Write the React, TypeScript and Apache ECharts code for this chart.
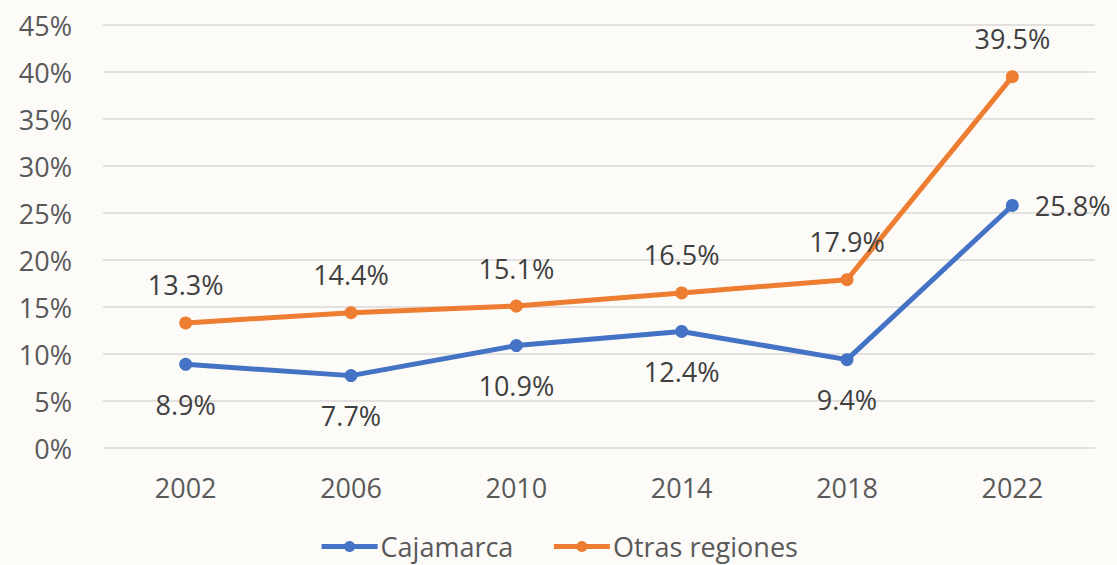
import React, { useEffect, useRef } from "react";
import * as echarts from "echarts";

const years = ["2002", "2006", "2010", "2014", "2018", "2022"];
const cajamarca = [8.9, 7.7, 10.9, 12.4, 9.4, 25.8];
const otras = [13.3, 14.4, 15.1, 16.5, 17.9, 39.5];

const FONT = "'Open Sans', 'Noto Sans', sans-serif";

export default function App() {
  const ref = useRef<HTMLDivElement>(null);
  useEffect(() => {
    document.body.style.margin = "0";
    const chart = echarts.init(ref.current!, undefined, { renderer: "svg" });
    chart.setOption({
      animation: false,
      backgroundColor: "#FDFBF8",
      textStyle: { fontFamily: FONT },
      grid: { left: 103, right: 22, top: 25, bottom: 117 },
      legend: {
        bottom: 0,
        left: "center",
        itemWidth: 56,
        itemHeight: 14,
        itemGap: 38,
        lineStyle: { width: 5 },
        textStyle: { fontFamily: FONT, fontSize: 27, color: "#595959", padding: [0, 0, 0, -2] },
        data: ["Cajamarca", "Otras regiones"],
      },
      xAxis: {
        type: "category",
        data: years,
        boundaryGap: true,
        axisLine: { show: false },
        axisTick: { show: false },
        axisLabel: { fontFamily: FONT, fontSize: 27, color: "#595959", margin: 26 },
      },
      yAxis: {
        type: "value",
        min: 0,
        max: 45,
        interval: 5,
        axisLine: { show: false },
        axisTick: { show: false },
        splitLine: { lineStyle: { color: "#D9D9D9", width: 1.5 } },
        axisLabel: { fontFamily: FONT, fontSize: 27, color: "#595959", margin: 31, formatter: "{value}%" },
      },
      series: [
        {
          name: "Cajamarca",
          type: "line",
          data: cajamarca.map((v, i) => ({
            value: v,
            label: i === cajamarca.length - 1 ? { position: "right", distance: 16 } : undefined,
          })),
          symbol: "circle",
          symbolSize: 13,
          color: "#4472C4",
          lineStyle: { width: 5, color: "#4472C4" },
          label: {
            show: true,
            position: "bottom",
            distance: 20,
            fontFamily: FONT,
            fontSize: 27,
            color: "#404040",
            formatter: (p: any) => p.value.toFixed(1) + "%",
          },
        },
        {
          name: "Otras regiones",
          type: "line",
          data: otras,
          symbol: "circle",
          symbolSize: 13,
          color: "#ED7D31",
          lineStyle: { width: 5, color: "#ED7D31" },
          label: {
            show: true,
            position: "top",
            distance: 18,
            fontFamily: FONT,
            fontSize: 27,
            color: "#404040",
            formatter: (p: any) => p.value.toFixed(1) + "%",
          },
        },
      ],
    });
    return () => chart.dispose();
  }, []);
  return <div ref={ref} style={{ width: 1117, height: 565 }} />;
}
